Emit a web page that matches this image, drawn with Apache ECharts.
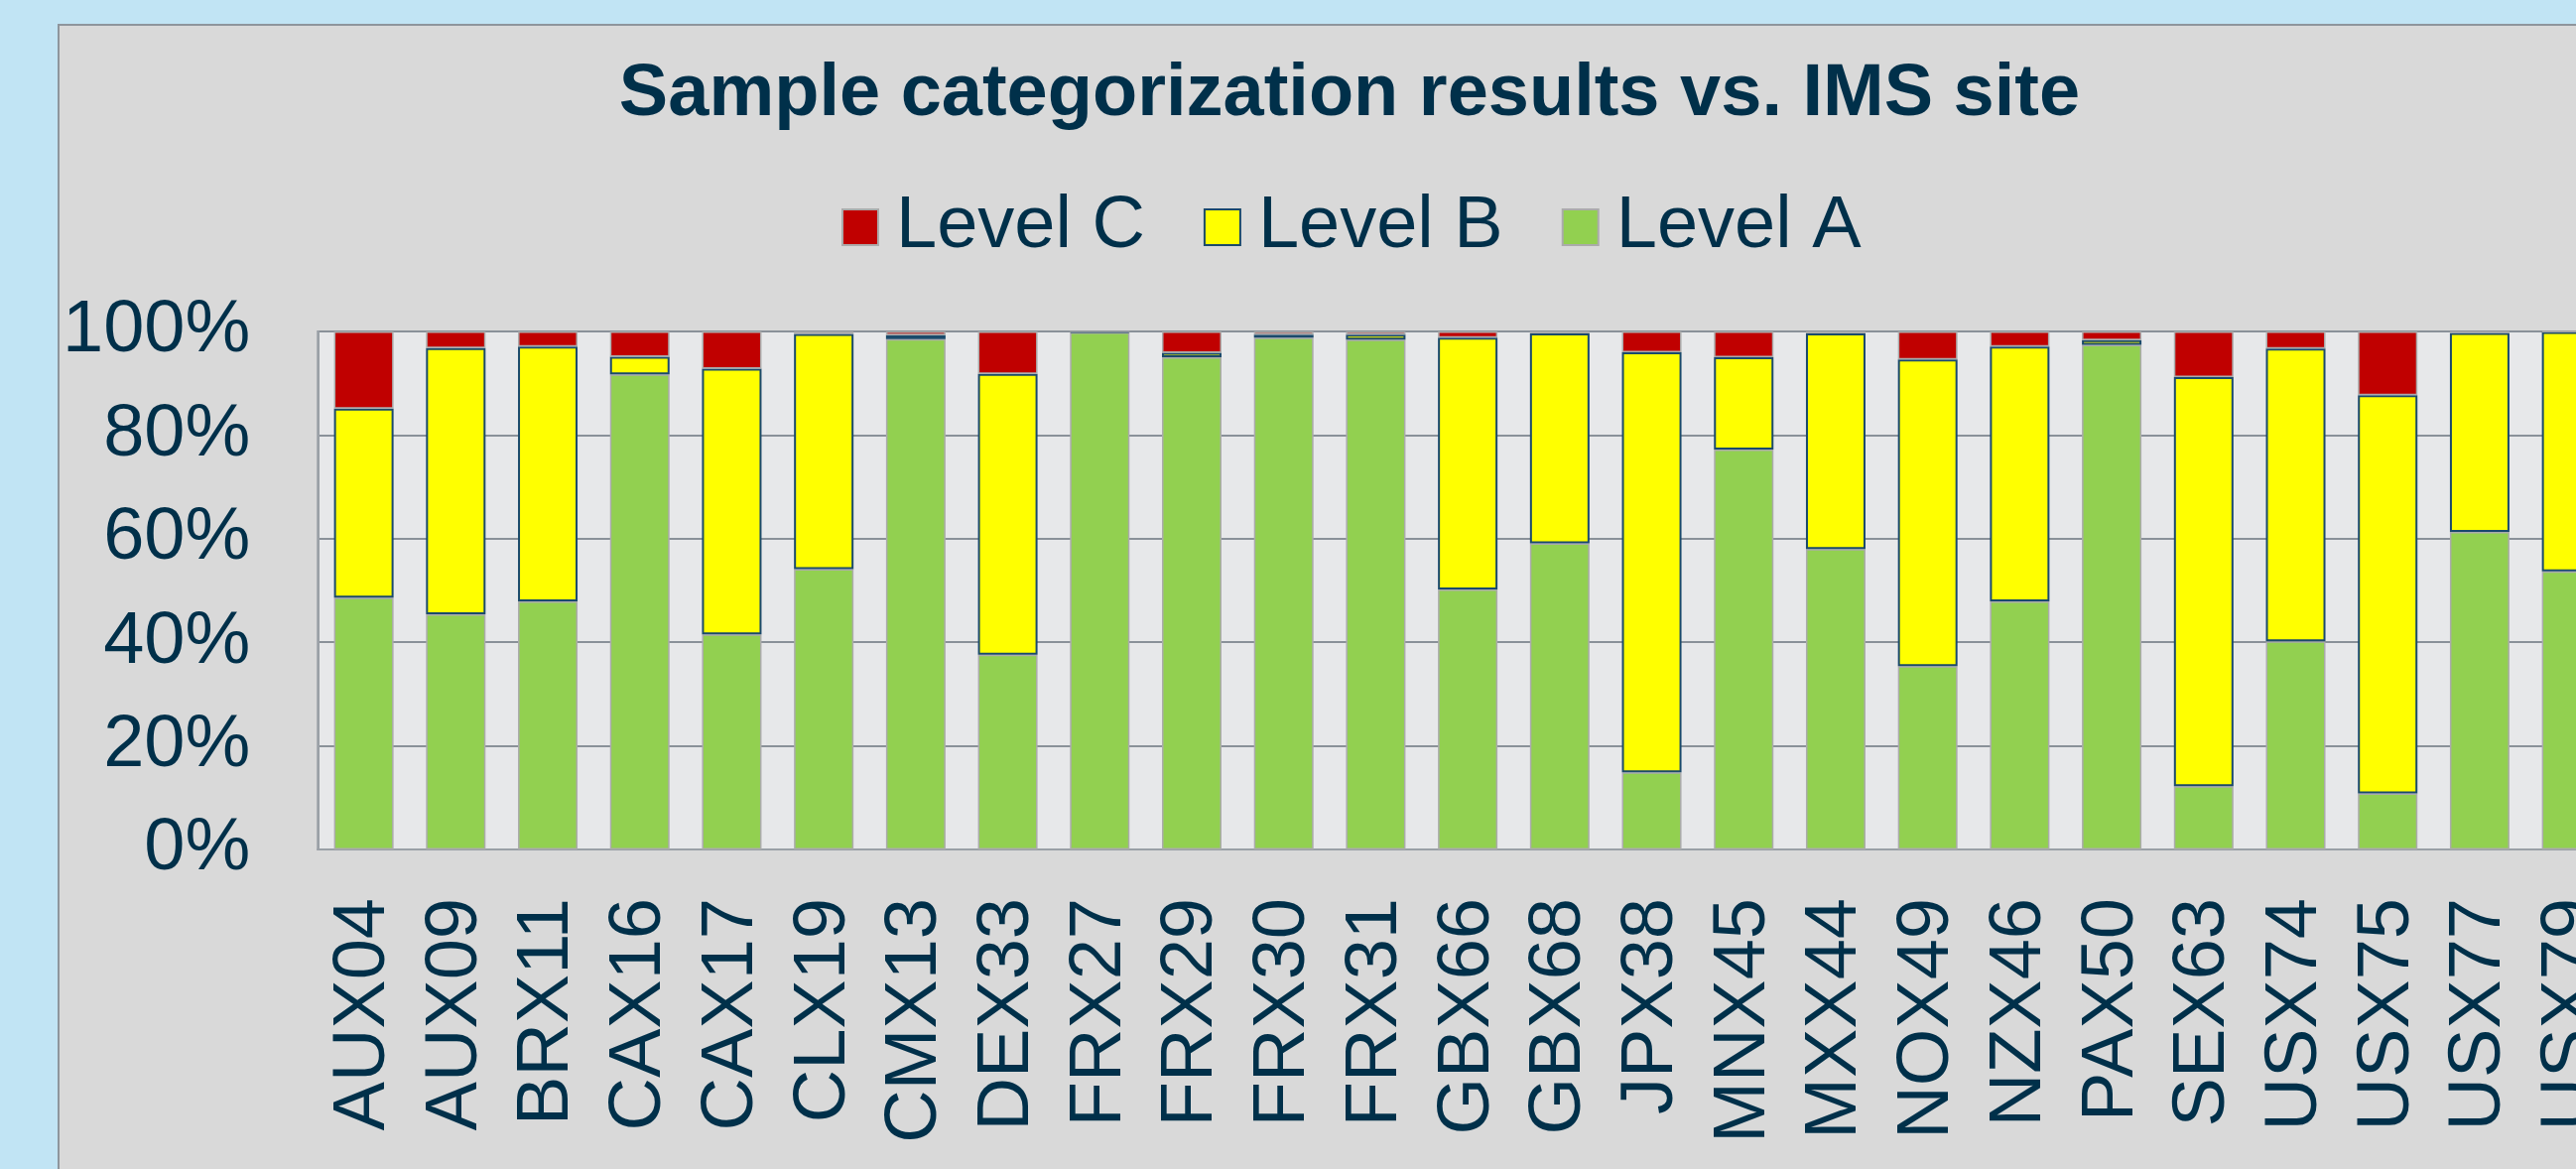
<!DOCTYPE html>
<html>
<head>
<meta charset="utf-8">
<script src="https://cdn.jsdelivr.net/npm/echarts@6/dist/echarts.min.js"></script>
<style>
  html, body { margin: 0; padding: 0; width: 2596px; height: 1178px; overflow: hidden; background: #C1E4F4; }
  #frame { position: absolute; left: 58px; top: 24px; width: 2600px; height: 1200px;
           border-left: 2px solid #8E959C; border-top: 2px solid #8E959C; background: #D9D9D9; }
  #chart { width: 2600px; height: 1200px; }
</style>
</head>
<body>
<div id="frame"><div id="chart"></div></div>
<script>
const titleText = 'Sample categorization results vs. IMS site';
const categories = ['AUX04','AUX09','BRX11','CAX16','CAX17','CLX19','CMX13','DEX33','FRX27','FRX29','FRX30','FRX31','GBX66','GBX68','JPX38','MNX45','MXX44','NOX49','NZX46','PAX50','SEX63','USX74','USX75','USX77','USX79'];
const levelA = [48.6, 45.4, 47.9, 91.7, 41.5, 54.1, 98.5, 37.6, 99.8, 95.0, 98.8, 98.4, 50.2, 59.1, 14.9, 77.2, 58.0, 35.4, 47.9, 97.4, 12.2, 40.2, 10.8, 61.3, 53.7];
const levelB = [36.5, 51.4, 49.2, 3.4, 51.3, 45.4, 0.8, 54.2, 0.2, 0.9, 0.6, 1.0, 48.6, 40.5, 81.1, 17.8, 41.6, 59.2, 49.2, 0.9, 79.0, 56.5, 76.9, 38.4, 46.2];
const levelC = [14.9, 3.2, 2.9, 4.9, 7.2, 0.5, 0.7, 8.2, 0.0, 4.1, 0.6, 0.6, 1.2, 0.4, 4.0, 5.0, 0.4, 5.4, 2.9, 1.7, 8.8, 3.3, 12.3, 0.3, 0.1];
const yTicks = [0, 20, 40, 60, 80, 100];

const navy = '#00304A';
const font = "'Liberation Sans', Arial, sans-serif";

const chart = echarts.init(document.getElementById('chart'));
chart.setOption({
  animation: false,
  backgroundColor: '#D9D9D9',
  textStyle: { fontFamily: font },
  title: {
    text: titleText,
    left: 'center',
    top: 28,
    textStyle: { fontFamily: font, fontSize: 74, fontWeight: 'bold', color: navy }
  },
  legend: {
    data: ['Level C', 'Level B', 'Level A'],
    left: 783,
    top: 161,
    itemWidth: 36,
    itemHeight: 36,
    itemGap: 59,
    icon: 'rect',
    textStyle: { fontFamily: font, fontSize: 74, color: navy, padding: [0, 0, 0, 13] }
  },
  grid: {
    left: 258, top: 308, width: 2320, height: 522,
    show: true, backgroundColor: '#E7E8EA', borderColor: '#9AA0A6', borderWidth: 2,
    containLabel: false
  },
  xAxis: {
    type: 'category',
    data: categories,
    axisLine: { show: true, lineStyle: { color: '#9AA0A6', width: 2 } },
    axisTick: { show: false },
    axisLabel: { interval: 0, rotate: 90, margin: 49, fontSize: 74, color: navy, fontFamily: font }
  },
  yAxis: {
    type: 'value',
    min: yTicks[0], max: yTicks[yTicks.length - 1], interval: 20,
    axisLine: { show: true, lineStyle: { color: '#9AA0A6', width: 2 } },
    axisTick: { show: false },
    axisLabel: { formatter: '{value}%', margin: 68, fontSize: 74, color: navy, fontFamily: font },
    splitLine: { show: true, lineStyle: { color: '#8A9199', width: 2 } }
  },
  series: [
    { name: 'Level A', type: 'bar', stack: 'all', data: levelA, barWidth: 60,
      itemStyle: { color: '#92D050', borderColor: '#ABABAB', borderWidth: 1.5 } },
    { name: 'Level B', type: 'bar', stack: 'all', data: levelB, barWidth: 60,
      itemStyle: { color: '#FFFF00', borderColor: '#1B4A6B', borderWidth: 2 } },
    { name: 'Level C', type: 'bar', stack: 'all', data: levelC, barWidth: 60,
      itemStyle: { color: '#C00000', borderColor: '#ABABAB', borderWidth: 1.5 } }
  ]
});
</script>
</body>
</html>
